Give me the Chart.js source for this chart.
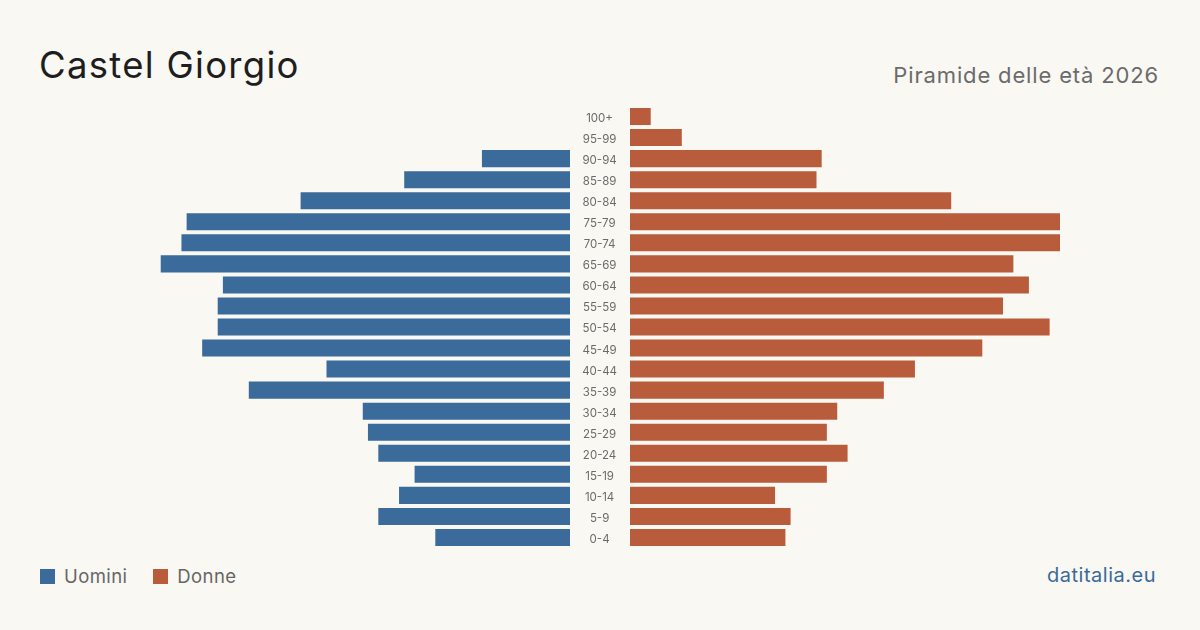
<!DOCTYPE html>
<html>
<head>
<meta charset="utf-8">
<script src="https://cdn.jsdelivr.net/npm/chart.js@4"></script>
<style>
  html, body { margin: 0; padding: 0; }
  body { width: 1200px; height: 630px; background: #f9f8f3; position: relative; overflow: hidden; font-family: Inter, "Noto Sans", sans-serif; }
  .title { position: absolute; left: 39px; top: 43px; font-size: 36.5px; color: #1e1e1e; letter-spacing: 1.3px; }
  .subtitle { position: absolute; right: 41px; top: 62px; font-size: 22px; color: #6b6b6b; letter-spacing: 0.85px; }
  .legend { position: absolute; left: 40px; top: 565px; font-size: 18.5px; color: #666; display: flex; align-items: center; letter-spacing: 0.4px; }
  .legend .sw { width: 15px; height: 15px; display: inline-block; margin-right: 9px; }
  .legend .item { display: flex; align-items: center; margin-right: 26px; }
  .source { position: absolute; right: 44px; top: 563px; font-size: 20px; color: #3a6b9b; letter-spacing: 0.5px; }
  #left { position: absolute; left: 140px; top: 106px; }
  #right { position: absolute; left: 570px; top: 106px; }
</style>
</head>
<body>
<div class="title">Castel Giorgio</div>
<div class="subtitle">Piramide delle età 2026</div>
<div class="legend">
  <span class="item"><span class="sw" style="background:#3a6b9b"></span>Uomini</span>
  <span class="item"><span class="sw" style="background:#b95c3c"></span>Donne</span>
</div>
<div class="source">datitalia.eu</div>
<div id="left" style="width:430px;height:442px"><canvas id="menChart"></canvas></div>
<div id="right" style="width:490px;height:442px"><canvas id="womenChart"></canvas></div>
<script>
const ageGroups = ['100+', '95-99', '90-94', '85-89', '80-84', '75-79', '70-74', '65-69', '60-64', '55-59', '50-54',
  '45-49', '40-44', '35-39', '30-34', '25-29', '20-24', '15-19', '10-14', '5-9', '0-4'];
const men = [0, 0, 17, 32, 52, 74, 75, 79, 67, 68, 68, 71, 47, 62, 40, 39, 37, 30, 33, 37, 26];
const women = [4, 10, 37, 36, 62, 83, 83, 74, 77, 72, 81, 68, 55, 49, 40, 38, 42, 38, 28, 31, 30];

const axisMax = Math.max(...men, ...women);
const menColor = '#3a6b9b';
const womenColor = '#b95c3c';

function makeChart(id, label, values, color, reverse, showLabels) {
  const ctx = document.getElementById(id).getContext('2d');
  return new Chart(ctx, {
    type: 'bar',
    data: {
      labels: ageGroups,
      datasets: [{
        label: label,
        data: values,
        backgroundColor: color,
        borderWidth: 0,
        barPercentage: 0.81,
        categoryPercentage: 1
      }]
    },
    options: {
      indexAxis: 'y',
      responsive: true,
      maintainAspectRatio: false,
      animation: false,
      layout: { padding: 0 },
      plugins: { legend: { display: false }, tooltip: { enabled: false } },
      scales: {
        x: {
          display: false,
          min: 0,
          max: axisMax,
          reverse: reverse
        },
        y: {
          display: showLabels,
          grid: { display: false, drawTicks: false, tickLength: 0 },
          border: { display: false },
          afterFit: scale => {
            scale.width = showLabels ? 60 : 0;
            // keep the label axis from shrinking the plot vertically
            scale.paddingTop = 0;
            scale.paddingBottom = 0;
          },
          ticks: {
            color: '#6b6b6b',
            crossAlign: 'center',
            padding: 13,
            labelOffset: 2,
            font: { family: 'Inter', size: 11.5 }
          }
        }
      }
    }
  });
}

makeChart('menChart', 'Uomini', men, menColor, true, false);
makeChart('womenChart', 'Donne', women, womenColor, false, true);
</script>
</body>
</html>
